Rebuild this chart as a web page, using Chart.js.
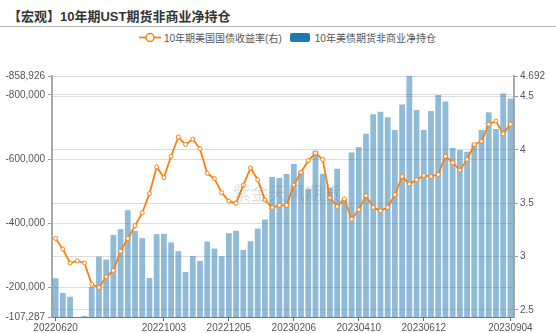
<!DOCTYPE html>
<html lang="zh-CN">
<head>
<meta charset="utf-8">
<title>10年期UST期货非商业净持仓</title>
<script src="https://cdn.jsdelivr.net/npm/chart.js@4.4.0/dist/chart.umd.min.js"></script>
<style>
    html, body { margin: 0; padding: 0; background: #fff; }
    body {
        width: 556px; height: 333px; position: relative; overflow: hidden;
        font-family: 'Liberation Sans', 'Noto Sans CJK SC', sans-serif;
    }
    .title {
        position: absolute; left: 8px; top: 6px;
        font-size: 13px; font-weight: bold; color: #333; white-space: nowrap;
    }
    .title-rule { position: absolute; left: 0; right: 0; top: 26px; height: 1px; background: #b4b4b4; }
    .legend {
        position: absolute; left: 139px; top: 31px; height: 13px;
        display: flex; align-items: center; font-size: 10px; color: #555; white-space: nowrap;
    }
    .legend-item { display: flex; align-items: center; margin-right: 8px; }
    .legend-item svg { margin-right: 3px; }
    .legend-box { width: 20px; height: 9px; border-radius: 2px; margin-right: 5px; }
    canvas { position: absolute; left: 0; top: 0; }
</style>
</head>
<body>
<div class="title">【宏观】10年期UST期货非商业净持仓</div>
<div class="title-rule"></div>
<div class="legend" id="legend"></div>
<canvas id="cotChart" width="556" height="333"></canvas>

<script>
// 周度日期
const weeks = [
    '20220620', '20220627', '20220704', '20220711', '20220718', '20220725', '20220801', '20220808',
    '20220815', '20220822', '20220829', '20220905', '20220912', '20220919', '20220926', '20221003',
    '20221010', '20221017', '20221024', '20221031', '20221107', '20221114', '20221121', '20221128',
    '20221205', '20221212', '20221219', '20221226', '20230102', '20230109', '20230116', '20230123',
    '20230130', '20230206', '20230213', '20230220', '20230227', '20230306', '20230313', '20230320',
    '20230327', '20230403', '20230410', '20230417', '20230424', '20230501', '20230508', '20230515',
    '20230522', '20230529', '20230605', '20230612', '20230619', '20230626', '20230703', '20230710',
    '20230717', '20230724', '20230731', '20230807', '20230814', '20230821', '20230828', '20230904'
];

// 横轴显示的日期
const shownDates = ['20220620', '20221003', '20221205', '20230206', '20230410', '20230612', '20230904'];

// 10年期美国国债收益率 (%)
const ustYield = [
    3.17, 3.07, 2.94, 2.96, 2.94, 2.74, 2.71, 2.81, 2.87, 3.05,
    3.17, 3.29, 3.41, 3.59, 3.84, 3.74, 3.94, 4.12, 4.05, 4.10,
    4.01, 3.78, 3.73, 3.60, 3.52, 3.50, 3.67, 3.83, 3.72, 3.53,
    3.46, 3.48, 3.48, 3.67, 3.79, 3.90, 3.97, 3.91, 3.55, 3.47,
    3.54, 3.35, 3.44, 3.57, 3.46, 3.43, 3.46, 3.58, 3.75, 3.68,
    3.72, 3.76, 3.75, 3.77, 3.94, 3.88, 3.81, 3.91, 4.05, 4.08,
    4.24, 4.27, 4.15, 4.24
];

// 10年美债期货非商业净持仓 (手)
const netPosition = [
    -228100, -182200, -170600, -107287, -110500, -200900, -295600, -286300, -363400, -381300,
    -440600, -375900, -353100, -229100, -365600, -366600, -340000, -312500, -247800, -297800,
    -282200, -342500, -320600, -296900, -368800, -375900, -316600, -343800, -383100, -411300,
    -544100, -540600, -553400, -584700, -561900, -507200, -625900, -554100, -510300, -569700,
    -473800, -620300, -637500, -679100, -739400, -747800, -730000, -690600, -770300, -858926,
    -753100, -690600, -749400, -800000, -779100, -634400, -628100, -622800, -649400, -690600,
    -745600, -693800, -804100, -789100
];

// 坐标轴刻度
const positionTicks = [-858926, -800000, -600000, -400000, -200000, -107287];
const yieldTicks = [2.5, 3, 3.5, 4, 4.5, 4.692];

const yieldLabel = '10年期美国国债收益率(右)';
const positionLabel = '10年美债期货非商业净持仓';

Chart.defaults.font.family = "'Liberation Sans', 'Noto Sans CJK SC', sans-serif";
Chart.defaults.font.size = 10;
Chart.defaults.color = '#555';

// 水印
const watermark = {
    id: 'watermark',
    afterDatasetsDraw(chart) {
        const { ctx, chartArea } = chart;
        ctx.save();
        ctx.font = "18px 'Noto Sans CJK SC', sans-serif";
        ctx.fillStyle = 'rgba(110, 110, 110, 0.22)';
        ctx.textAlign = 'center';
        ctx.textBaseline = 'middle';
        ctx.fillText('紫金天风期货',
            chartArea.left + (chartArea.right - chartArea.left) * 0.508,
            chartArea.top + (chartArea.bottom - chartArea.top) * 0.485);
        ctx.restore();
    }
};

function noPadding(scale) {
    scale.paddingTop = 0;
    scale.paddingBottom = 0;
    scale.paddingLeft = 0;
    scale.paddingRight = 0;
}

const chart = new Chart(document.getElementById('cotChart'), {
    type: 'bar',
    data: {
        labels: weeks,
        datasets: [
            {
                type: 'line',
                label: yieldLabel,
                data: ustYield,
                yAxisID: 'yRate',
                borderColor: '#ff7f0e',
                borderWidth: 1.8,
                pointRadius: 2,
                pointBorderWidth: 1,
                pointBackgroundColor: '#fff',
                pointBorderColor: '#ff7f0e',
                tension: 0,
                order: 0
            },
            {
                type: 'bar',
                label: positionLabel,
                data: netPosition,
                yAxisID: 'yPos',
                backgroundColor: 'rgba(31, 119, 180, 0.5)',
                legendColor: '#1f77b4',
                barPercentage: 0.8,
                categoryPercentage: 1,
                order: 1
            }
        ]
    },
    options: {
        responsive: false,
        animation: false,
        devicePixelRatio: 1,
        layout: { padding: { top: 76, left: 0, right: 0, bottom: 0 } },
        plugins: {
            legend: { display: false },
            tooltip: { enabled: false }
        },
        scales: {
            x: {
                offset: true,
                grid: {
                    offset: false,
                    drawOnChartArea: false,
                    tickLength: 4,
                    color: ctx => shownDates.includes(weeks[ctx.index]) ? '#666' : 'rgba(0,0,0,0)'
                },
                border: { color: '#777', width: 1 },
                ticks: {
                    autoSkip: false,
                    maxRotation: 0,
                    minRotation: 0,
                    padding: 1,
                    callback: (v, i) => shownDates.includes(weeks[i]) ? weeks[i] : ''
                },
                afterFit: s => { noPadding(s); s.height = 16; }
            },
            yPos: {
                position: 'left',
                reverse: true,
                min: -858926,
                max: -107287,
                afterBuildTicks: s => { s.ticks = positionTicks.map(v => ({ value: v })); },
                ticks: {
                    padding: 3,
                    callback: v => v.toLocaleString('en-US')
                },
                grid: { color: '#dcdcdc', tickLength: 4, tickColor: '#999' },
                border: { color: '#a8a8a8', width: 2 },
                afterFit: s => { noPadding(s); s.width = 52; }
            },
            yRate: {
                position: 'right',
                min: 2.434,
                max: 4.692,
                afterBuildTicks: s => { s.ticks = yieldTicks.map(v => ({ value: v })); },
                ticks: {
                    padding: 2,
                    callback: v => String(v)
                },
                grid: { color: '#dcdcdc', tickLength: 4, tickColor: '#999' },
                border: { color: '#a8a8a8', width: 2 },
                afterFit: s => { noPadding(s); s.width = 42; }
            }
        }
    },
    plugins: [watermark]
});

// 图例
function buildLegend(chart) {
    const box = document.getElementById('legend');
    chart.data.datasets.forEach(ds => {
        const item = document.createElement('div');
        item.className = 'legend-item';
        if (ds.type === 'line') {
            item.innerHTML =
                '<svg width="22" height="11"><line x1="0" y1="5.5" x2="22" y2="5.5" stroke="' + ds.borderColor + '" stroke-width="1.8"/>' +
                '<circle cx="11" cy="5.5" r="4" fill="#fff" stroke="' + ds.borderColor + '" stroke-width="1.5"/></svg>';
        } else {
            item.innerHTML = '<span class="legend-box" style="background:' + ds.legendColor + '"></span>';
        }
        const text = document.createElement('span');
        text.textContent = ds.label;
        item.appendChild(text);
        box.appendChild(item);
    });
}

buildLegend(chart);
</script>
</body>
</html>
